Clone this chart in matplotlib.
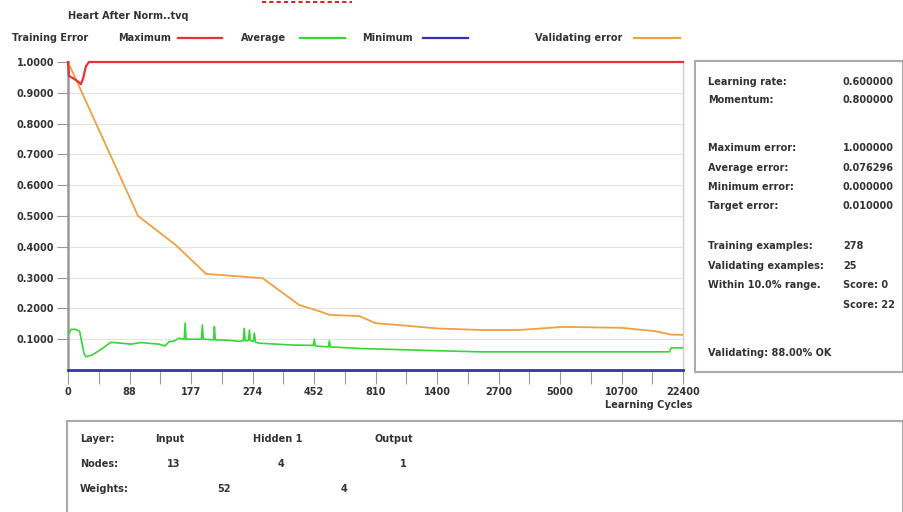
import matplotlib
matplotlib.use("Agg")
import matplotlib.pyplot as plt
from matplotlib.patches import Rectangle
from matplotlib.lines import Line2D

# ---------------- data ----------------
cycle_labels = ["0", "88", "177", "274", "452", "810", "1400", "2700", "5000", "10700", "22400"]
y_ticks = [0.1, 0.2, 0.3, 0.4, 0.5, 0.6, 0.7, 0.8, 0.9, 1.0]

max_x = [0, 0.03, 0.2, 0.35, 0.42, 0.5, 0.58, 0.68, 20]
max_y = [1.0, 0.955, 0.945, 0.935, 0.928, 0.95, 0.985, 1.0, 1.0]

avg_x = [0, 0.1, 0.25, 0.38, 0.45, 0.52, 0.58, 0.79, 1.12, 1.39, 1.72, 2.04, 2.37,
         2.96, 3.15, 3.29, 3.45, 3.6, 3.78, 3.81, 3.84, 4.05, 4.34, 4.37, 4.40,
         4.74, 4.76, 4.79, 5.14, 5.57, 5.70, 5.73, 5.76, 5.87, 5.90, 5.93,
         6.03, 6.06, 6.10, 6.22, 6.77, 7.30, 7.98, 8.01, 8.04, 8.47, 8.50, 8.53,
         9.48, 11.5, 13.39, 19.56, 19.62, 20]
avg_y = [0.115, 0.132, 0.132, 0.125, 0.090, 0.054, 0.043, 0.049, 0.070, 0.090, 0.087, 0.084, 0.089,
         0.084, 0.078, 0.092, 0.094, 0.103, 0.100, 0.152, 0.100, 0.100, 0.100, 0.146, 0.100,
         0.098, 0.141, 0.098, 0.097, 0.093, 0.095, 0.135, 0.095, 0.096, 0.130, 0.096,
         0.092, 0.120, 0.090, 0.087, 0.084, 0.081, 0.080, 0.100, 0.078, 0.075, 0.095, 0.075,
         0.070, 0.064, 0.059, 0.059, 0.072, 0.072]

min_x = [0, 20]
min_y = [0.0, 0.0]

val_x = [0, 2.28, 3.5, 4.49, 6.33, 7.52, 8.2, 8.5, 9.48, 10.0, 11.1, 12.0, 13.4,
         14.7, 16.1, 18.0, 19.1, 19.6, 20]
val_y = [1.0, 0.50, 0.406, 0.312, 0.298, 0.211, 0.19, 0.179, 0.175, 0.152, 0.143, 0.135, 0.130,
         0.130, 0.140, 0.137, 0.126, 0.115, 0.114]

info_labels = ["Learning rate:", "Momentum:", "Maximum error:", "Average error:",
               "Minimum error:", "Target error:", "Training examples:",
               "Validating examples:", "Within 10.0% range."]
info_values = ["0.600000", "0.800000", "1.000000", "0.076296", "0.000000",
               "0.010000", "278", "25", "Score: 0"]

layers = ["Input", "Hidden 1", "Output"]
nodes = ["13", "4", "1"]
weights = ["52", "4"]

# ---------------- styling ----------------
W, H = 904, 512
RED = "#e3343a"
GREEN = "#33d833"
BLUE = "#3434b0"
ORANGE = "#f0a040"
TXT = "#333333"
FONT = "DejaVu Sans"
FS = 7.0

fig = plt.figure(figsize=(W / 100, H / 100), dpi=100)
fig.patch.set_facecolor("white")


def P(x, y):
    return (x / W, 1 - y / H)


def t(x, y, s, ha="left", **kw):
    fig.text(*P(x, y), s, ha=ha, va="center", fontsize=FS, fontweight="bold",
             color=TXT, family=FONT, **kw)


ax = fig.add_axes([68 / W, 1 - 370 / H, (683 - 68) / W, (370 - 62) / H])
ax.set_xlim(0, 20)
ax.set_ylim(0, 1.0)

for yv in y_ticks[:-1]:
    ax.axhline(yv, color="#e4e4e4", lw=0.8, zorder=0)

ax.plot(val_x, val_y, color=ORANGE, lw=1.3, zorder=3)
ax.plot(avg_x, avg_y, color=GREEN, lw=1.2, zorder=4)
ax.plot(max_x, max_y, color=RED, lw=1.6, zorder=5, clip_on=False)
ax.plot(min_x, min_y, color=BLUE, lw=2.0, zorder=5, clip_on=False)

for side in ["top", "bottom"]:
    ax.spines[side].set_visible(False)
ax.spines["left"].set_color("#999999")
ax.spines["left"].set_linewidth(1.8)
ax.spines["right"].set_color("#cccccc")
ax.spines["right"].set_linewidth(1.0)

ax.set_yticks(y_ticks)
ax.set_yticklabels(["%.4f" % v for v in y_ticks], fontsize=FS, fontweight="bold",
                   color=TXT, family=FONT)
ax.tick_params(axis="y", length=8, width=0.8, color="#999999", pad=2)

ax.set_xticks(range(0, 21, 2))
ax.set_xticklabels(cycle_labels, fontsize=FS, fontweight="bold", color=TXT, family=FONT)
ax.set_xticks(range(1, 21, 2), minor=True)
ax.tick_params(axis="x", which="both", length=10, width=0.8, color="#999999", pad=2)

# title & legend row
t(68, 16, "Heart After Norm..tvq")
t(12, 38, "Training Error")
legend_items = [("Maximum", 118, 178, 222, RED), ("Average", 241, 300, 345, GREEN),
                ("Minimum", 362, 423, 468, BLUE), ("Validating error", 535, 634, 680, ORANGE)]
for name, tx, l0, l1, c in legend_items:
    t(tx, 38, name)
    fig.add_artist(Line2D([l0 / W, l1 / W], [1 - 38 / H, 1 - 38 / H], color=c, lw=1.6))

# cropped red dotted underline at top
fig.add_artist(Line2D([262 / W, 352 / W], [1 - 2 / H, 1 - 2 / H], color="#dd2222",
                      lw=1.5, linestyle=(0, (2, 1.5))))

t(605, 405, "Learning Cycles")

# right info panel
fig.add_artist(Rectangle(P(695, 372), (903 - 695) / W, (372 - 61) / H, fill=False,
                         edgecolor="#aaaaaa", lw=1.5, transform=fig.transFigure))
info_y = [82, 100, 148, 168, 187, 206, 246, 266, 285]
for lab, val, yy in zip(info_labels, info_values, info_y):
    t(708, yy, lab)
    t(843, yy, val)
t(843, 305, "Score: 22")
t(708, 353, "Validating: 88.00% OK")

# bottom layer panel
fig.add_artist(Rectangle(P(67, 530), (903 - 67) / W, (530 - 421) / H, fill=False,
                         edgecolor="#aaaaaa", lw=1.5, transform=fig.transFigure))
t(80, 439, "Layer:")
for s, xx in zip(layers, [155, 253, 375]):
    t(xx, 439, s)
t(80, 464, "Nodes:")
for s, xx in zip(nodes, [167, 278, 400]):
    t(xx, 464, s)
t(80, 489, "Weights:")
for s, xx in zip(weights, [217, 341]):
    t(xx, 489, s)

fig.savefig("out.png", dpi=100, facecolor="white")
